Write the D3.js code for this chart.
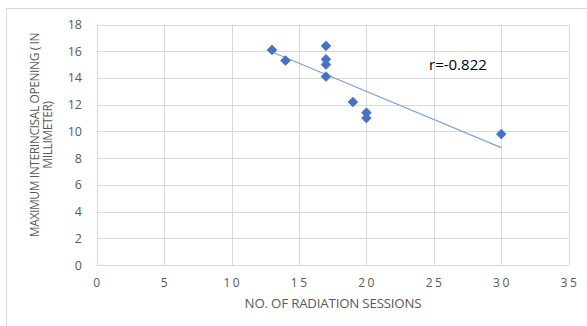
<!DOCTYPE html>
<html>
<head>
<meta charset="utf-8">
<script src="https://cdn.jsdelivr.net/npm/d3@7"></script>
<style>
  body { margin: 0; background: #fff; }
  text { font-family: "Open Sans", sans-serif; fill: #595959; }
</style>
</head>
<body>
<svg id="chart" width="587" height="326"></svg>
<script>
// sessions vs. maximum interincisal opening (mm)
const sessions = [13, 14, 17, 17, 17, 17, 19, 20, 20, 30];
const opening  = [16.1, 15.3, 16.4, 15.4, 15.0, 14.1, 12.2, 11.4, 11.0, 9.8];
const xTicks = [0, 5, 10, 15, 20, 25, 30, 35];
const yTicks = [0, 2, 4, 6, 8, 10, 12, 14, 16, 18];
const rLabel = "r=-0.822";

const svg = d3.select("#chart");
const margin = { top: 24.5, left: 96.7, right: 16, bottom: 61 };
const W = 587, H = 326;

// outer chart frame
svg.append("rect")
  .attr("x", 6.5).attr("y", 8.5)
  .attr("width", 590).attr("height", 330)
  .attr("fill", "#fff").attr("stroke", "#d9d9d9");

const x = d3.scaleLinear().domain([0, 35]).range([margin.left, W - margin.right - 2.3]);
const y = d3.scaleLinear().domain([0, 18]).range([H - margin.bottom, margin.top]);

const g = svg.append("g");

// gridlines
g.selectAll(".hgrid").data(yTicks).enter().append("line")
  .attr("x1", x(0)).attr("x2", x(35))
  .attr("y1", d => Math.round(y(d)) + 0.5).attr("y2", d => Math.round(y(d)) + 0.5)
  .attr("stroke", "#d9d9d9");
g.selectAll(".vgrid").data(xTicks).enter().append("line")
  .attr("y1", y(0)).attr("y2", y(18))
  .attr("x1", d => Math.round(x(d)) + 0.5).attr("x2", d => Math.round(x(d)) + 0.5)
  .attr("stroke", "#d9d9d9");

// tick labels
g.selectAll(".ylab").data(yTicks).enter().append("text")
  .attr("x", 82).attr("y", d => y(d) + 4.5)
  .attr("text-anchor", "end").attr("font-size", 12.5)
  .text(d => d);
g.selectAll(".xlab").data(xTicks).enter().append("text")
  .attr("x", d => x(d)).attr("y", 287).attr("dx", 1.2)
  .attr("text-anchor", "middle").attr("font-size", 12)
  .attr("letter-spacing", 2.5)
  .text(d => d);

// axis titles
svg.append("text")
  .attr("x", 333).attr("y", 307.5)
  .attr("text-anchor", "middle").attr("font-size", 13.3)
  .attr("letter-spacing", -0.2)
  .text("NO. OF RADIATION SESSIONS");
const yt = svg.append("text")
  .attr("transform", "translate(38.5,135) rotate(-90)")
  .attr("text-anchor", "middle").attr("font-size", 12)
  .attr("letter-spacing", -0.4);
yt.append("tspan").attr("x", 0).attr("dy", 0).text("MAXIMUM INTERINCISAL OPENING ( IN");
yt.append("tspan").attr("x", 0).attr("dy", 13.5).text("MILLIMETER)");

// linear trendline (least squares)
const mx = d3.mean(sessions), my = d3.mean(opening);
const sxy = d3.sum(sessions, (d, i) => (d - mx) * (opening[i] - my));
const sxx = d3.sum(sessions, d => (d - mx) ** 2);
const slope = sxy / sxx, icpt = my - slope * mx;
const [x0, x1] = d3.extent(sessions);
g.append("line")
  .attr("x1", x(x0)).attr("y1", y(icpt + slope * x0))
  .attr("x2", x(x1)).attr("y2", y(icpt + slope * x1))
  .attr("stroke", "#7fa3dc").attr("stroke-width", 1.2);

// markers
g.selectAll(".pt").data(sessions).enter().append("path")
  .attr("d", d3.symbol().type(d3.symbolDiamond2).size(60))
  .attr("transform", (d, i) => `translate(${x(d)},${y(opening[i])})`)
  .attr("fill", "#4472c4").attr("stroke", "#4472c4").attr("stroke-width", 0.8);

svg.append("text")
  .attr("x", 429).attr("y", 70)
  .attr("font-size", 15).style("fill", "#000")
  .text(rLabel);
</script>
</body>
</html>
